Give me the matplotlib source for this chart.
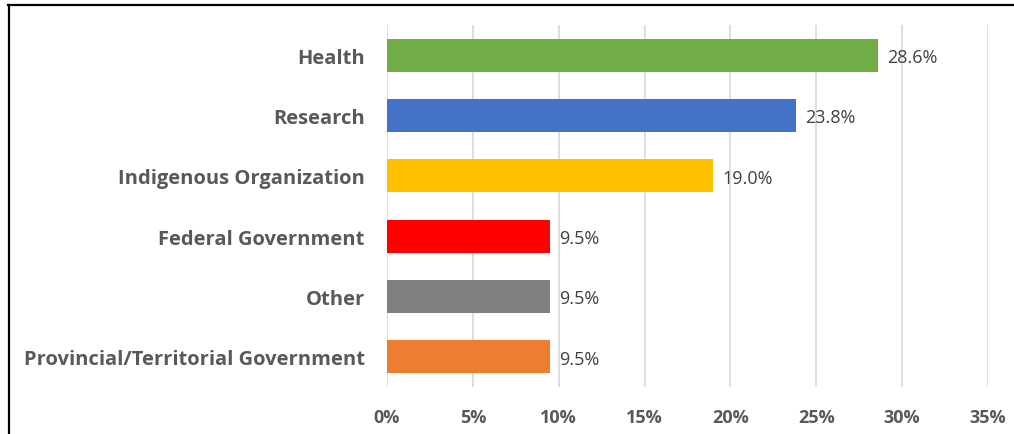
import matplotlib
matplotlib.use('Agg')
import matplotlib.pyplot as plt
from matplotlib.lines import Line2D
from matplotlib.ticker import FuncFormatter

plt.rcParams['font.family'] = ['Open Sans', 'DejaVu Sans']

categories = ['Health', 'Research', 'Indigenous Organization', 'Federal Government',
              'Other', 'Provincial/Territorial Government']
values = [28.6, 23.8, 19.0, 9.5, 9.5, 9.5]
colors = ['#70AD47', '#4472C4', '#FFC000', '#FF0000', '#7F7F7F', '#ED7D31']
xticks = [0, 5, 10, 15, 20, 25, 30, 35]

fig = plt.figure(figsize=(10.14, 4.35), dpi=100)
ax = fig.add_axes([0.3817, 0.108, 0.5927, 0.832])

y = list(range(len(categories)))
ax.barh(y, values, height=0.55, color=colors, zorder=3)
for yi, v in zip(y, values):
    ax.text(v + 0.55, yi + 0.03, f'{v:.1f}%', va='center', ha='left',
            fontsize=13, color='#404040')

ax.set_ylim(len(categories) - 0.5, -0.5)
ax.set_xlim(0, 35)
ax.set_yticks(y)
ax.set_yticklabels(categories, fontsize=14.5, fontweight='bold', color='#595959',
                   va='center_baseline')
ax.set_xticks(xticks)
ax.xaxis.set_major_formatter(FuncFormatter(lambda x, _: f'{x:.0f}%'))
ax.tick_params(axis='x', labelsize=13, colors='#595959', length=0, pad=15)
ax.tick_params(axis='y', length=0, pad=16)
for lbl in ax.get_xticklabels():
    lbl.set_fontweight('bold')
ax.grid(axis='x', color='#D9D9D9', linewidth=1.2, zorder=0)
for s in ax.spines.values():
    s.set_visible(False)

# outer frame (top and left edges)
fig.add_artist(Line2D([0.008, 1.0], [1 - 5.5 / 435, 1 - 5.5 / 435],
                      transform=fig.transFigure, color='black', linewidth=1.6))
fig.add_artist(Line2D([9 / 1014, 9 / 1014], [0, 1 - 5.5 / 435],
                      transform=fig.transFigure, color='black', linewidth=1.6))

fig.savefig('out.png', dpi=100)
